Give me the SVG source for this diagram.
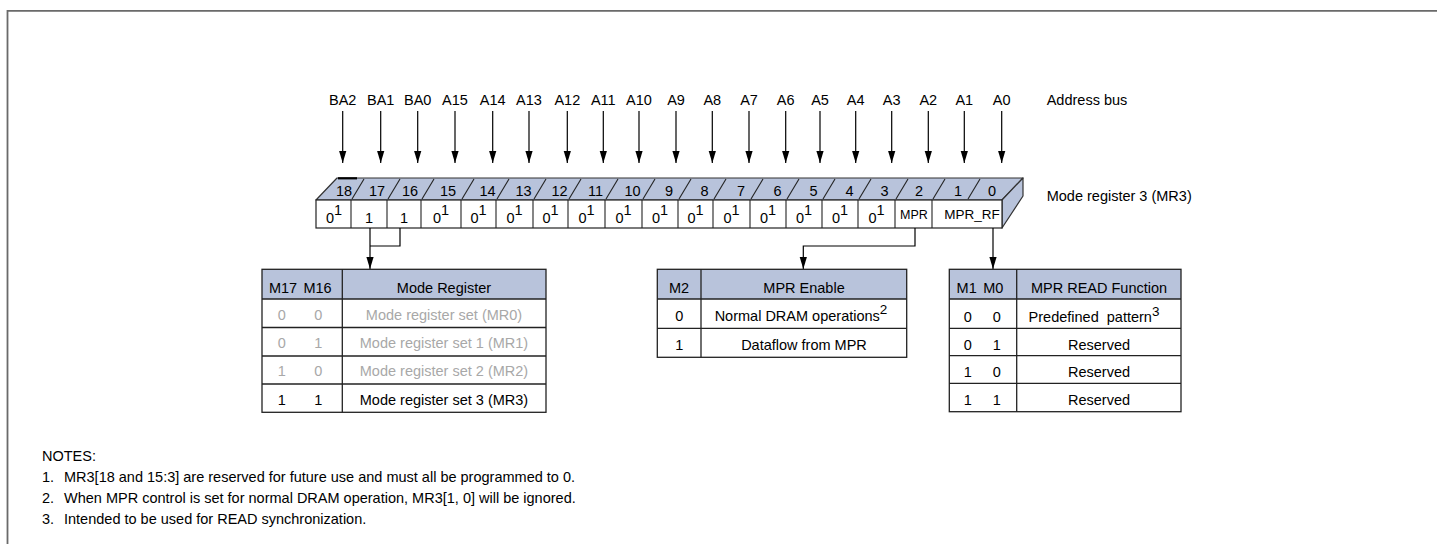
<svg xmlns="http://www.w3.org/2000/svg" width="1437" height="544" viewBox="0 0 1437 544">
<defs>
<marker id="ah" markerWidth="12" markerHeight="8" refX="12" refY="4" orient="auto" markerUnits="userSpaceOnUse">
<path d="M0,0.4 L12,4 L0,7.6 z" fill="#000"/>
</marker>
<style>
text{font-family:"Liberation Sans",Arial,sans-serif;font-size:14.5px;fill:#000}
.c{text-anchor:middle}
.g{fill:#a8a8a8}
.ln{stroke:#000;stroke-width:1.2;fill:none}
.ar{stroke:#000;stroke-width:1.2;fill:none;marker-end:url(#ah)}
.hd{fill:#b8c3db}
.tb{fill:none;stroke:#222;stroke-width:1.3}
.face{fill:#b8c3db;stroke:#333;stroke-width:1.2;stroke-linejoin:round}
.cell{fill:#fff;stroke:#222;stroke-width:1.2}
.sl{stroke:#222;stroke-width:1.1}
.pre{white-space:pre}
</style>
</defs>
<rect width="1437" height="544" fill="#fff"/>
<path id="frame" d="M7.5,544 V10.8 H1437" fill="none" stroke="#6a6a6a" stroke-width="1.8"/>

<g id="address-bus">
<g class="c">
<text x="342.7" y="105">BA2</text>
<text x="380.7" y="105">BA1</text>
<text x="417.7" y="105">BA0</text>
<text x="455" y="105">A15</text>
<text x="492.7" y="105">A14</text>
<text x="529" y="105">A13</text>
<text x="567.3" y="105">A12</text>
<text x="603.3" y="105">A11</text>
<text x="639" y="105">A10</text>
<text x="676" y="105">A9</text>
<text x="712.3" y="105">A8</text>
<text x="749" y="105">A7</text>
<text x="785.7" y="105">A6</text>
<text x="820" y="105">A5</text>
<text x="855.7" y="105">A4</text>
<text x="891.7" y="105">A3</text>
<text x="928.3" y="105">A2</text>
<text x="964.3" y="105">A1</text>
<text x="1001.7" y="105">A0</text>
</g>
<text x="1046.7" y="105">Address bus</text>
</g>

<g id="register">
<polygon class="face" points="316,200 337,178 1023,178 1002,200"/>
<polygon class="face" points="1002,200 1023,178 1023,196 1002,228"/>
<rect class="cell" x="316" y="200" width="686" height="28"/>
<line x1="338" y1="178.3" x2="357" y2="178.3" stroke="#000" stroke-width="2.2"/>
<g class="sl">
<line x1="352" y1="199" x2="364" y2="179"/>
<line x1="388" y1="199" x2="400" y2="179"/>
<line x1="422" y1="199" x2="434" y2="179"/>
<line x1="462" y1="199" x2="474" y2="179"/>
<line x1="497" y1="199" x2="509" y2="179"/>
<line x1="534" y1="199" x2="546" y2="179"/>
<line x1="569" y1="199" x2="581" y2="179"/>
<line x1="606" y1="199" x2="618" y2="179"/>
<line x1="643" y1="199" x2="655" y2="179"/>
<line x1="679" y1="199" x2="691" y2="179"/>
<line x1="714" y1="199" x2="726" y2="179"/>
<line x1="751" y1="199" x2="763" y2="179"/>
<line x1="787" y1="199" x2="799" y2="179"/>
<line x1="823" y1="199" x2="835" y2="179"/>
<line x1="859" y1="199" x2="871" y2="179"/>
<line x1="896" y1="199" x2="908" y2="179"/>
<line x1="933" y1="199" x2="945" y2="179"/>
<line x1="968" y1="199" x2="980" y2="179"/>
</g>
<g class="sl">
<line x1="351" y1="200" x2="351" y2="228"/>
<line x1="387" y1="200" x2="387" y2="228"/>
<line x1="421" y1="200" x2="421" y2="228"/>
<line x1="461" y1="200" x2="461" y2="228"/>
<line x1="496" y1="200" x2="496" y2="228"/>
<line x1="533" y1="200" x2="533" y2="228"/>
<line x1="568" y1="200" x2="568" y2="228"/>
<line x1="605" y1="200" x2="605" y2="228"/>
<line x1="642" y1="200" x2="642" y2="228"/>
<line x1="678" y1="200" x2="678" y2="228"/>
<line x1="713" y1="200" x2="713" y2="228"/>
<line x1="750" y1="200" x2="750" y2="228"/>
<line x1="786" y1="200" x2="786" y2="228"/>
<line x1="822" y1="200" x2="822" y2="228"/>
<line x1="858" y1="200" x2="858" y2="228"/>
<line x1="895" y1="200" x2="895" y2="228"/>
<line x1="932" y1="200" x2="932" y2="228"/>
</g>
<g class="c">
<text x="344" y="196">18</text>
<text x="377" y="196">17</text>
<text x="410" y="196">16</text>
<text x="448" y="196">15</text>
<text x="487.5" y="196">14</text>
<text x="523.5" y="196">13</text>
<text x="559.5" y="196">12</text>
<text x="595.5" y="196">11</text>
<text x="632.5" y="196">10</text>
<text x="669" y="196">9</text>
<text x="704.5" y="196">8</text>
<text x="741" y="196">7</text>
<text x="777.5" y="196">6</text>
<text x="813.5" y="196">5</text>
<text x="849.5" y="196">4</text>
<text x="884.5" y="196">3</text>
<text x="919" y="196">2</text>
<text x="958" y="196">1</text>
<text x="992" y="196">0</text>
</g>
<g class="c">
<text x="334" y="223">0<tspan dy="-8">1</tspan></text>
<text x="369" y="223">1</text>
<text x="404" y="223">1</text>
<text x="441" y="223">0<tspan dy="-8">1</tspan></text>
<text x="478.5" y="223">0<tspan dy="-8">1</tspan></text>
<text x="514.5" y="223">0<tspan dy="-8">1</tspan></text>
<text x="550.5" y="223">0<tspan dy="-8">1</tspan></text>
<text x="586.5" y="223">0<tspan dy="-8">1</tspan></text>
<text x="623.5" y="223">0<tspan dy="-8">1</tspan></text>
<text x="660" y="223">0<tspan dy="-8">1</tspan></text>
<text x="695.5" y="223">0<tspan dy="-8">1</tspan></text>
<text x="731.5" y="223">0<tspan dy="-8">1</tspan></text>
<text x="768" y="223">0<tspan dy="-8">1</tspan></text>
<text x="804" y="223">0<tspan dy="-8">1</tspan></text>
<text x="840" y="223">0<tspan dy="-8">1</tspan></text>
<text x="876.5" y="223">0<tspan dy="-8">1</tspan></text>
<text x="914" y="219" style="font-size:12.5px">MPR</text>
<text x="972" y="219" style="font-size:13.5px">MPR_RF</text>
</g>
<text x="1046.7" y="201">Mode register 3 (MR3)</text>
</g>

<g id="connectors">
<g class="ar">
<line x1="342.7" y1="111" x2="342.7" y2="163"/>
<line x1="380.7" y1="111" x2="380.7" y2="163"/>
<line x1="417.7" y1="111" x2="417.7" y2="163"/>
<line x1="455" y1="111" x2="455" y2="163"/>
<line x1="492.7" y1="111" x2="492.7" y2="163"/>
<line x1="529" y1="111" x2="529" y2="163"/>
<line x1="567.3" y1="111" x2="567.3" y2="163"/>
<line x1="603.3" y1="111" x2="603.3" y2="163"/>
<line x1="639" y1="111" x2="639" y2="163"/>
<line x1="676" y1="111" x2="676" y2="163"/>
<line x1="712.3" y1="111" x2="712.3" y2="163"/>
<line x1="749" y1="111" x2="749" y2="163"/>
<line x1="785.7" y1="111" x2="785.7" y2="163"/>
<line x1="820" y1="111" x2="820" y2="163"/>
<line x1="855.7" y1="111" x2="855.7" y2="163"/>
<line x1="891.7" y1="111" x2="891.7" y2="163"/>
<line x1="928.3" y1="111" x2="928.3" y2="163"/>
<line x1="964.3" y1="111" x2="964.3" y2="163"/>
<line x1="1001.7" y1="111" x2="1001.7" y2="163"/>
</g>
<path class="ln" d="M400,228 V246 H370"/>
<path class="ar" d="M370,228 V269"/>
<path class="ar" d="M915,228 V246 H803.3 V269"/>
<path class="ar" d="M993,228 V269"/>
</g>

<g id="mode-register-table">
<rect class="hd" x="262" y="269.3" width="284" height="29.7"/>
<rect class="tb" x="262" y="269.3" width="284" height="143"/>
<g class="tb">
<line x1="262" y1="299" x2="546" y2="299"/>
<line x1="262" y1="327.5" x2="546" y2="327.5"/>
<line x1="262" y1="356" x2="546" y2="356"/>
<line x1="262" y1="384" x2="546" y2="384"/>
<line x1="342.3" y1="269.3" x2="342.3" y2="412.3"/>
</g>
<g class="c">
<text x="283" y="293">M17</text>
<text x="317.5" y="293">M16</text>
<text x="444" y="292.5">Mode Register</text>
<text class="g" x="281.7" y="319.5">0</text>
<text class="g" x="318.3" y="319.5">0</text>
<text class="g" x="444" y="319.5">Mode register set (MR0)</text>
<text class="g" x="281.7" y="348">0</text>
<text class="g" x="318.3" y="348">1</text>
<text class="g" x="444" y="348">Mode register set 1 (MR1)</text>
<text class="g" x="281.7" y="376">1</text>
<text class="g" x="318.3" y="376">0</text>
<text class="g" x="444" y="376">Mode register set 2 (MR2)</text>
<text x="281.7" y="404.5">1</text>
<text x="318.3" y="404.5">1</text>
<text x="444" y="404.5">Mode register set 3 (MR3)</text>
</g>
</g>

<g id="mpr-enable-table">
<rect class="hd" x="657.3" y="269.3" width="249.4" height="29.7"/>
<rect class="tb" x="657.3" y="269.3" width="249.4" height="88"/>
<g class="tb">
<line x1="657.3" y1="299" x2="906.7" y2="299"/>
<line x1="657.3" y1="328.3" x2="906.7" y2="328.3"/>
<line x1="701" y1="269.3" x2="701" y2="357.3"/>
</g>
<g class="c">
<text x="679" y="292.7">M2</text>
<text x="804" y="292.7">MPR Enable</text>
<text x="679.3" y="320.7">0</text>
<text x="801" y="320.7">Normal DRAM operations<tspan dy="-7" style="font-size:13.5px">2</tspan></text>
<text x="679.3" y="350">1</text>
<text x="804" y="350">Dataflow from MPR</text>
</g>
</g>

<g id="mpr-read-function-table">
<rect class="hd" x="949.3" y="269.3" width="231.7" height="29.7"/>
<rect class="tb" x="949.3" y="269.3" width="231.7" height="142.4"/>
<g class="tb">
<line x1="949.3" y1="299" x2="1181" y2="299"/>
<line x1="949.3" y1="328.3" x2="1181" y2="328.3"/>
<line x1="949.3" y1="355.7" x2="1181" y2="355.7"/>
<line x1="949.3" y1="383.3" x2="1181" y2="383.3"/>
<line x1="1016.7" y1="269.3" x2="1016.7" y2="411.7"/>
</g>
<g class="c">
<text x="966.7" y="292.7">M1</text>
<text x="993.3" y="292.7">M0</text>
<text x="1099" y="292.7">MPR READ Function</text>
<text x="967.7" y="321.7">0</text>
<text x="996.7" y="321.7">0</text>
<text class="pre" x="1094" y="321.7">Predefined  pattern<tspan dy="-6" style="font-size:13.5px">3</tspan></text>
<text x="967.7" y="350">0</text>
<text x="996.7" y="350">1</text>
<text x="1099" y="350">Reserved</text>
<text x="967.7" y="377.3">1</text>
<text x="996.7" y="377.3">0</text>
<text x="1099" y="377.3">Reserved</text>
<text x="967.7" y="405">1</text>
<text x="996.7" y="405">1</text>
<text x="1099" y="405">Reserved</text>
</g>
</g>

<g id="notes">
<text x="42" y="461">NOTES:</text>
<text x="42" y="482">1.</text>
<text x="64" y="482">MR3[18 and 15:3] are reserved for future use and must all be programmed to 0.</text>
<text x="42" y="503">2.</text>
<text x="64" y="503">When MPR control is set for normal DRAM operation, MR3[1, 0] will be ignored.</text>
<text x="42" y="524">3.</text>
<text x="64" y="524">Intended to be used for READ synchronization.</text>
</g>
</svg>
